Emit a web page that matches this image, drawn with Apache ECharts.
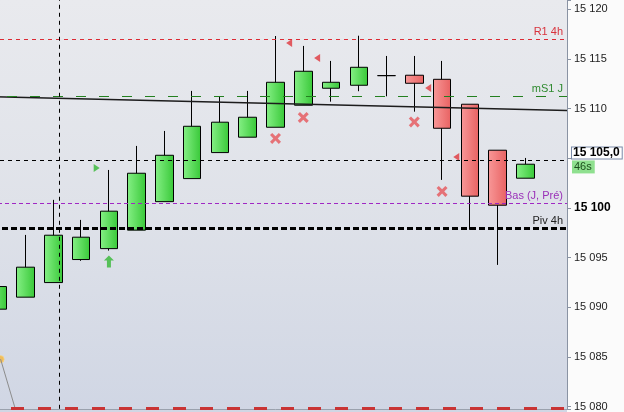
<!DOCTYPE html>
<html>
<head>
<meta charset="utf-8">
<script src="https://cdn.jsdelivr.net/npm/echarts@6/dist/echarts.min.js"></script>
<style>
html,body{margin:0;padding:0;background:#fbfbfb;}
#wrap{position:relative;width:624px;height:412px;overflow:hidden;}
#bg{position:absolute;left:0;top:0;width:567px;height:412px;background:linear-gradient(to bottom,#e9eaee 0%,#dfe2e9 50%,#d0d6e4 100%);}
#chart{position:absolute;left:-16px;top:0;width:640px;height:412px;}
</style>
</head>
<body>
<div id="wrap"><div id="bg"></div><div id="chart"></div></div>
<script>
// ---- data ----
const categories = ['1','2','3','4','5','6','7','8','9','10','11','12','13','14','15','16','17','18','19','20','21'];
const opens  = [15089.80,15091.01,15092.48,15094.80,15095.90,15097.76,15100.63,15102.95,15105.57,15107.12,15108.12,15110.34,15112.05,15112.35,15113.32,15113.36,15112.95,15110.44,15105.81,15102.99];
const closes = [15092.08,15094.03,15097.25,15097.05,15099.67,15103.49,15105.30,15108.22,15108.63,15109.13,15112.65,15113.76,15112.65,15114.16,15113.32,15112.55,15108.02,15101.18,15100.27,15104.40];
const lows   = [15089.80,15091.01,15092.48,15094.67,15095.70,15097.76,15100.63,15102.95,15105.57,15107.12,15108.12,15110.34,15110.70,15111.75,15111.24,15109.69,15102.82,15097.79,15094.26,15102.99];
const highs  = [15092.08,15097.28,15100.81,15098.79,15103.82,15106.24,15107.75,15111.78,15111.27,15111.78,15117.31,15116.31,15114.80,15117.34,15115.30,15115.30,15114.80,15110.44,15105.81,15105.03];

const levelR1 = 15116.96;
const levelMS1 = 15111.22;
const levelPrice = 15104.78;
const levelBas = 15100.45;
const levelPiv = 15097.94;
const levelBottom = 15079.8;
const priceText = '15 105,0';
const timerText = '46s';

const trendLine = [[-0.5, 15111.21], [20.5, 15109.82]];
const verticalAt = 2.22;
const redCrosses = [[10, 15107.00], [11, 15109.11], [15, 15108.66], [16, 15101.66]];
const redTriangles = [[10.49, 15116.61], [11.50, 15115.10], [15.50, 15112.08], [16.51, 15105.13]];
const greenTriangles = [[3.56, 15104.03]];
const greenArrows = [[4, 15094.60]];
const orangeDots = [[0.097, 15084.77]];
const greyLine = [[0.097, 15084.77], [0.75, 15078.6]];

const yMin = 15079.77, yMax = 15120.936;
const hiddenTick = 15105;

// ---- chart ----
const chart = echarts.init(document.getElementById('chart'), null, {renderer:'canvas'});
const gGreen = new echarts.graphic.LinearGradient(0,0,1,0,[{offset:0,color:'#86f086'},{offset:1,color:'#38c838'}]);
const gRed = new echarts.graphic.LinearGradient(0,0,1,0,[{offset:0,color:'#f89898'},{offset:1,color:'#e86262'}]);

const candleData = opens.map((o,i)=>({value:[o, closes[i], lows[i], highs[i]]}));

function fmtNum(v){
  const s = String(Math.round(v));
  return s.slice(0, s.length-3) + ' ' + s.slice(-3);
}

const font = 'Liberation Sans, Arial, sans-serif';
function hLabel(text, color){
  return {show:true, position:'insideEndTop', formatter:text, color:color, fontSize:11, fontFamily:font, distance:[4,2]};
}

chart.setOption({
  animation:false,
  grid:{left:0, right:57, top:0, bottom:3, containLabel:false},
  xAxis:[
    {type:'category', data:categories, boundaryGap:true, axisLine:{show:true, onZero:false, lineStyle:{color:'#9aa1ad'}}, axisTick:{show:false}, axisLabel:{show:false}, splitLine:{show:false}},
    {type:'value', min:-0.5, max:20.5, show:false}
  ],
  yAxis:{
    type:'value', position:'right', min:yMin, max:yMax, splitNumber:8, minInterval:5, maxInterval:5, scale:true,
    axisLine:{show:true, onZero:false, lineStyle:{color:'#8a93a3'}},
    axisTick:{show:true, length:4, lineStyle:{color:'#8a93a3'}},
    splitLine:{show:false},
    axisLabel:{
      margin:7, color:'#222', fontSize:11, fontFamily:font,
      formatter:function(v){
        const r = Math.round(v);
        if (Math.abs(v-r) > 1e-6 || r % 5 !== 0 || r === hiddenTick) return '';
        if (r === 15100) return '{b|' + fmtNum(r) + '}';
        return fmtNum(r);
      },
      rich:{b:{fontWeight:'bold', fontSize:12, fontFamily:font, color:'#000'}}
    }
  },
  series:[
    {
      type:'candlestick', xAxisIndex:0, yAxisIndex:0, barWidth:18,
      data:candleData,
      itemStyle:{color:gGreen, color0:gRed, borderColor:'#000', borderColor0:'#000', borderColorDoji:'#000', borderWidth:1},
      markLine:{
        silent:true, symbol:'none', animation:false,
        data:[
          {yAxis:levelR1, lineStyle:{color:'#dc2a34', type:[4,4], width:1}, label:hLabel('R1 4h','#d8323c')},
          {yAxis:levelMS1, lineStyle:{color:'#23801f', type:[10,13], width:1}, label:hLabel('mS1 J','#2f8a2f')},
          {yAxis:levelBas, lineStyle:{color:'#a028c4', type:[4,3], width:1}, label:hLabel('Bas (J, Pré)','#9a30b8')},
          {yAxis:levelPiv, lineStyle:{color:'#000', type:[6,3], width:3}, label:hLabel('Piv 4h','#222')},
          {yAxis:levelBottom, lineStyle:{color:'#c93434', type:[13,14], width:3}, label:{show:false}},
          {yAxis:levelPrice, lineStyle:{color:'#000', type:[4,4], width:1},
           label:{show:true, position:'end', distance:5,
             formatter:'{a|' + priceText + '}\n{b|' + timerText + '}',
             rich:{
               a:{fontWeight:'bold', fontSize:12, fontFamily:font, color:'#000', backgroundColor:'#fff', borderColor:'#7a8aa8', borderWidth:1, padding:[0,2,0,1], lineHeight:13, height:11},
               b:{fontSize:11, fontFamily:font, color:'#1d4d1d', backgroundColor:'#8fe08f', padding:[1,3,1,2], lineHeight:15}
             }}}
        ]
      }
    },
    {
      type:'line', xAxisIndex:1, yAxisIndex:0, data:trendLine, symbol:'none',
      lineStyle:{color:'#1c1c1c', width:1.5}, silent:true,
      markLine:{silent:true, symbol:'none', label:{show:false},
        data:[{xAxis:verticalAt, lineStyle:{color:'#000', type:[4,4], width:1}}]}
    },
    {
      type:'line', xAxisIndex:1, yAxisIndex:0, data:greyLine, symbol:'none',
      lineStyle:{color:'#8c8c8c', width:1}, silent:true
    },
    {
      type:'scatter', xAxisIndex:1, yAxisIndex:0, data:redCrosses, silent:true,
      symbol:'path://M2,0 L5,3 L8,0 L10,2 L7,5 L10,8 L8,10 L5,7 L2,10 L0,8 L3,5 L0,2 Z', symbolSize:11,
      itemStyle:{color:'#e6555a'}
    },
    {
      type:'scatter', xAxisIndex:1, yAxisIndex:0, data:redTriangles, silent:true,
      symbol:'path://M0,5 L8,0 L8,10 Z', symbolSize:[6,8], itemStyle:{color:'#e0363c'}
    },
    {
      type:'scatter', xAxisIndex:1, yAxisIndex:0, data:greenTriangles, silent:true,
      symbol:'path://M0,0 L8,5 L0,10 Z', symbolSize:[6,8], itemStyle:{color:'#34b834'}
    },
    {
      type:'scatter', xAxisIndex:1, yAxisIndex:0, data:greenArrows, silent:true,
      symbol:'path://M5,0 L10,5 L7,5 L7,12 L3,12 L3,5 L0,5 Z', symbolSize:[10,12], itemStyle:{color:'#34b834'}
    },
    {
      type:'scatter', xAxisIndex:1, yAxisIndex:0, data:orangeDots, silent:true,
      symbol:'circle', symbolSize:7, itemStyle:{color:'#f5b53c', borderColor:'#f9d27a', borderWidth:1}
    }
  ]
});
</script>
</body>
</html>
